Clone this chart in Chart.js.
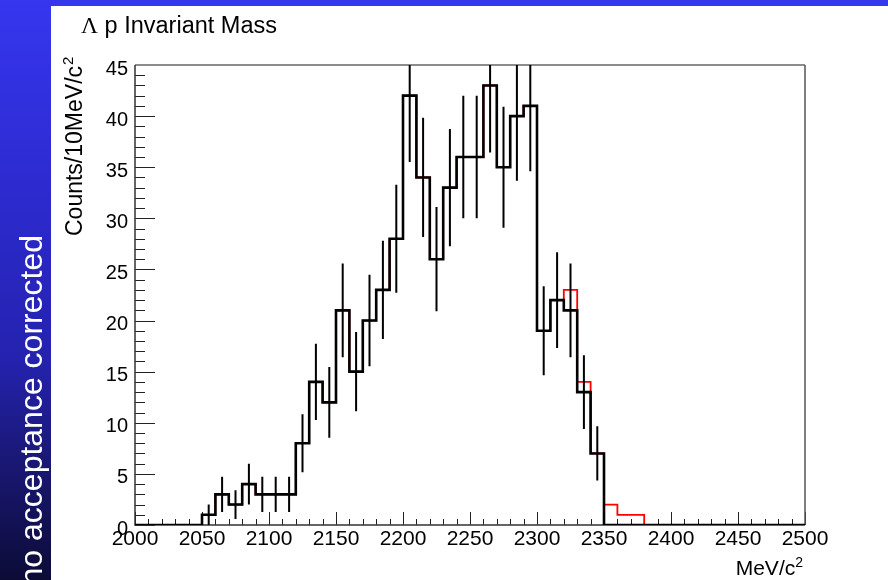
<!DOCTYPE html>
<html>
<head>
<meta charset="utf-8">
<script src="https://cdn.jsdelivr.net/npm/chart.js@4/dist/chart.umd.min.js"></script>
<style>
  html, body { margin: 0; padding: 0; background: #fff; overflow: hidden; }
  #wrap { position: relative; width: 888px; height: 580px; }
  canvas { display: block; }
</style>
</head>
<body>
<div id="wrap"><canvas id="c" width="888" height="580"></canvas></div>
<script>
// Lambda-p invariant mass histogram, 10 MeV/c^2 bins (left bin edges)
const binEdges = [2000, 2010, 2020, 2030, 2040, 2050, 2060, 2070, 2080, 2090,
                  2100, 2110, 2120, 2130, 2140, 2150, 2160, 2170, 2180, 2190,
                  2200, 2210, 2220, 2230, 2240, 2250, 2260, 2270, 2280, 2290,
                  2300, 2310, 2320, 2330, 2340, 2350, 2360, 2370, 2380, 2390,
                  2400, 2410, 2420, 2430, 2440, 2450, 2460, 2470, 2480, 2490];
const upperEdge = 2500;

// counts per bin (black histogram)
const counts = [0, 0, 0, 0, 0, 1, 3, 2, 4, 3,
                3, 3, 8, 14, 12, 21, 15, 20, 23, 28,
                42, 34, 26, 33, 36, 36, 43, 35, 40, 41,
                19, 22, 21, 13, 7, 0, 0, 0, 0, 0,
                0, 0, 0, 0, 0, 0, 0, 0, 0, 0];

// statistical errors per bin
const errors = [0, 0, 0, 0, 0, 1.0, 1.73, 1.41, 2.0, 1.73,
                1.73, 1.73, 2.83, 3.74, 3.46, 4.58, 3.87, 4.47, 4.80, 5.29,
                6.48, 5.83, 5.10, 5.74, 6.0, 6.0, 6.56, 5.92, 6.32, 6.40,
                4.36, 4.69, 4.58, 3.61, 2.65, 0, 0, 0, 0, 0,
                0, 0, 0, 0, 0, 0, 0, 0, 0, 0];

// second (red) histogram
const countsRed = [0, 0, 0, 0, 0, 1, 3, 2, 4, 3,
                   3, 3, 8, 14, 12, 21, 15, 20, 23, 28,
                   42, 34, 26, 33, 36, 36, 43, 35, 40, 41,
                   19, 22, 23, 14, 7, 2, 1, 1, 0, 0,
                   0, 0, 0, 0, 0, 0, 0, 0, 0, 0];

const xMin = 2000, xMax = 2500, xMajorStep = 50, xMinorStep = 10;
const yMin = 0, yMax = 45, yMajorStep = 5, yMinorStep = 1;

const FONT = "'Liberation Sans', Arial, Helvetica, sans-serif";

function stepPoints(vals) {
  const pts = binEdges.map((x, i) => ({ x: x, y: vals[i] }));
  pts.push({ x: upperEdge, y: vals[vals.length - 1] });
  return pts;
}

function errorPoints() {
  const w = binEdges[1] - binEdges[0];
  const pts = [];
  binEdges.forEach((x, i) => {
    if (counts[i] <= 0) return;
    const c = x + w / 2;
    pts.push({ x: c, y: counts[i] - errors[i] });
    pts.push({ x: c, y: counts[i] + errors[i] });
    pts.push({ x: c, y: null });
  });
  return pts;
}

// slide background: blue bars with the side note
const slideBackground = {
  id: 'slideBackground',
  beforeDraw(chart) {
    const ctx = chart.ctx;
    const W = chart.width, H = chart.height;
    ctx.save();
    ctx.fillStyle = '#ffffff';
    ctx.fillRect(0, 0, W, H);
    ctx.fillStyle = '#3636ef';
    ctx.fillRect(0, 0, W, 6);
    const g = ctx.createLinearGradient(0, 0, 0, H);
    g.addColorStop(0.0, '#3636ef');
    g.addColorStop(0.38, '#2b29c9');
    g.addColorStop(0.62, '#2422ae');
    g.addColorStop(0.76, '#1c1a80');
    g.addColorStop(1.0, '#0c0b36');
    ctx.fillStyle = g;
    ctx.fillRect(0, 0, 51, H);
    ctx.translate(42, 235);
    ctx.rotate(-Math.PI / 2);
    ctx.fillStyle = '#ffffff';
    ctx.font = '32px ' + FONT;
    ctx.textAlign = 'right';
    ctx.textBaseline = 'alphabetic';
    ctx.fillText('no acceptance corrected', 0, 0);
    ctx.restore();
  }
};

// frame and inward tick marks
const frameTicks = {
  id: 'frameTicks',
  beforeDatasetsDraw(chart) {
    const ctx = chart.ctx;
    const { left, right, top, bottom } = chart.chartArea;
    const xs = chart.scales.x, ys = chart.scales.y;
    ctx.save();
    ctx.strokeStyle = '#222';
    ctx.lineWidth = 1;
    ctx.beginPath();
    for (let v = yMin; v <= yMax + 1e-9; v += yMinorStep) {
      const py = Math.round(ys.getPixelForValue(v)) + 0.5;
      const len = (Math.abs(v % yMajorStep) < 1e-9) ? 20 : 10;
      ctx.moveTo(left, py);
      ctx.lineTo(left + len, py);
    }
    for (let v = xMin; v <= xMax + 1e-9; v += xMinorStep) {
      const px = Math.round(xs.getPixelForValue(v)) + 0.5;
      const len = (Math.abs((v - xMin) % xMajorStep) < 1e-9) ? 13 : 6;
      ctx.moveTo(px, bottom);
      ctx.lineTo(px, bottom - len);
    }
    ctx.stroke();
    // top and right frame
    ctx.strokeStyle = '#8c8c8c';
    ctx.lineWidth = 2;
    ctx.beginPath();
    ctx.moveTo(left, top);
    ctx.lineTo(right, top);
    ctx.stroke();
    ctx.strokeStyle = '#555';
    ctx.lineWidth = 1.5;
    ctx.beginPath();
    ctx.moveTo(right, top);
    ctx.lineTo(right, bottom);
    ctx.stroke();
    // axes
    ctx.strokeStyle = '#333';
    ctx.lineWidth = 1.5;
    ctx.beginPath();
    ctx.moveTo(left, top);
    ctx.lineTo(left, bottom);
    ctx.lineTo(right, bottom);
    ctx.stroke();
    ctx.restore();
  }
};

// titles with superscripts
const titles = {
  id: 'titles',
  afterDraw(chart) {
    const ctx = chart.ctx;
    ctx.save();
    ctx.fillStyle = '#000';
    ctx.textBaseline = 'alphabetic';
    // main title
    ctx.textAlign = 'left';
    ctx.font = "23.5px 'Liberation Serif', 'Times New Roman', serif";
    ctx.fillText('\u039B', 81, 33);
    const lw = ctx.measureText('\u039B').width;
    ctx.font = '23.5px ' + FONT;
    ctx.fillText(' p Invariant Mass', 81 + lw, 33);

    // x axis title
    const xr = chart.chartArea.right - 2;
    ctx.textAlign = 'right';
    ctx.font = '14px ' + FONT;
    const supW = ctx.measureText('2').width;
    ctx.fillText('2', xr, 567);
    ctx.font = '21px ' + FONT;
    ctx.fillText('MeV/c', xr - supW, 575);

    // y axis title (rotated)
    ctx.translate(82, 236);
    ctx.rotate(-Math.PI / 2);
    ctx.textAlign = 'left';
    ctx.font = '23px ' + FONT;
    const t = 'Counts/10MeV/c';
    ctx.fillText(t, 0, 0);
    const tw = ctx.measureText(t).width;
    ctx.font = '15px ' + FONT;
    ctx.fillText('2', tw + 1, -9);
    ctx.restore();
  }
};

new Chart(document.getElementById('c'), {
  type: 'line',
  data: {
    datasets: [
      {
        label: 'red',
        data: stepPoints(countsRed),
        stepped: 'before',
        borderColor: '#ff0000',
        borderWidth: 1.8,
        pointRadius: 0,
        fill: false,
        order: 2
      },
      {
        label: 'counts',
        data: stepPoints(counts),
        stepped: 'before',
        borderColor: '#000000',
        borderWidth: 2.6,
        pointRadius: 0,
        fill: false,
        order: 1
      },
      {
        label: 'errors',
        data: errorPoints(),
        borderColor: '#000000',
        borderWidth: 2,
        pointRadius: 0,
        spanGaps: false,
        fill: false,
        order: 0
      }
    ]
  },
  options: {
    responsive: false,
    animation: false,
    devicePixelRatio: 1,
    layout: { padding: { left: 51, top: 65, right: 83, bottom: 0 } },
    plugins: {
      legend: { display: false },
      tooltip: { enabled: false },
      title: { display: false }
    },
    scales: {
      x: {
        type: 'linear',
        min: xMin,
        max: xMax,
        border: { display: false },
        grid: { display: false, drawTicks: false },
        ticks: {
          stepSize: xMajorStep,
          autoSkip: false,
          maxRotation: 0,
          padding: 2,
          color: '#000',
          font: { family: FONT, size: 21 },
          callback: (v) => String(v)
        },
        afterFit(s) { s.height = 55; }
      },
      y: {
        type: 'linear',
        min: yMin,
        max: yMax,
        border: { display: false },
        grid: { display: false, drawTicks: false },
        ticks: {
          stepSize: yMajorStep,
          autoSkip: false,
          padding: 7,
          labelOffset: 4,
          color: '#000',
          font: { family: FONT, size: 20 },
          callback: (v) => String(v)
        },
        afterFit(s) { s.width = 84; }
      }
    }
  },
  plugins: [slideBackground, frameTicks, titles]
});
</script>
</body>
</html>
